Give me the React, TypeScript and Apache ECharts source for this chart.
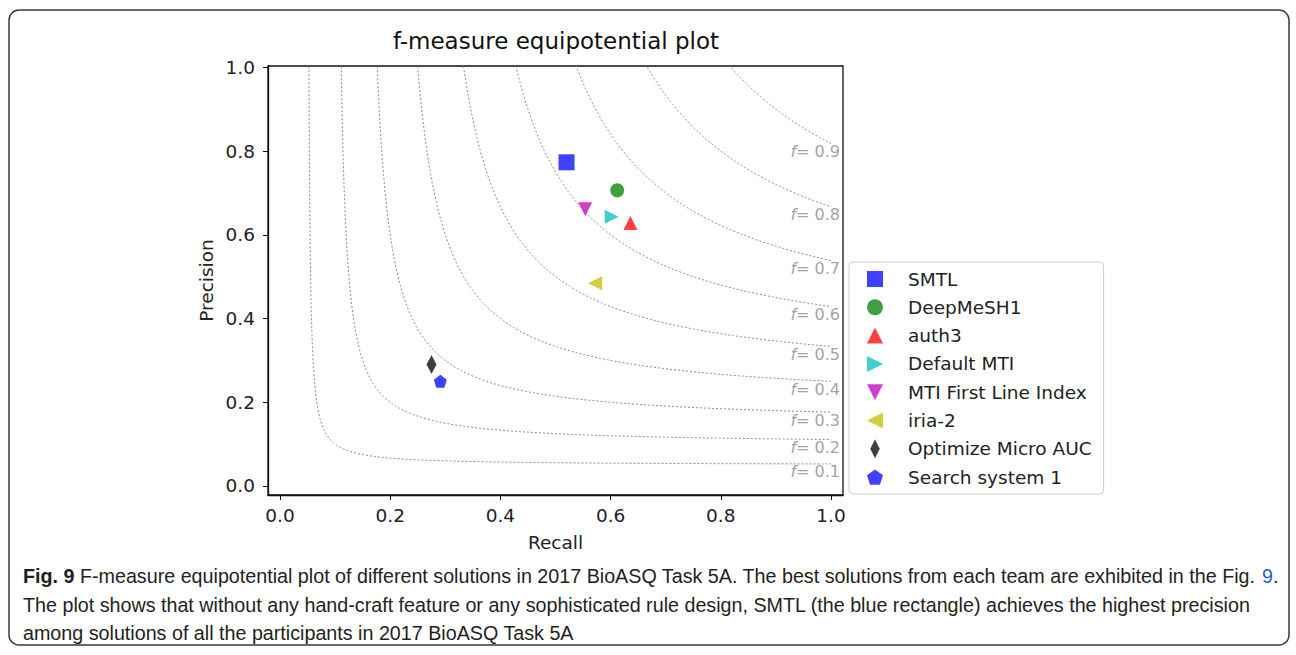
import React, { useEffect, useRef } from 'react';
import * as echarts from 'echarts';

// ---- data ----
const teams = ['SMTL', 'DeepMeSH1', 'auth3', 'Default MTI', 'MTI First Line Index', 'iria-2', 'Optimize Micro AUC', 'Search system 1'];
const recall = [0.52, 0.612, 0.636, 0.602, 0.554, 0.572, 0.275, 0.291];
const precision = [0.773, 0.706, 0.628, 0.643, 0.661, 0.484, 0.29, 0.25];
const teamColors = ['#0000ff', '#008000', '#ff0000', '#00bfbf', '#bf00bf', '#bfbf00', '#000000', '#0000ff'];
const fScores = [0.1, 0.2, 0.3, 0.4, 0.5, 0.6, 0.7, 0.8, 0.9];
const xTicks = [0, 0.2, 0.4, 0.6, 0.8, 1.0];
const yTicks = [0, 0.2, 0.4, 0.6, 0.8, 1.0];

const captionLines = [
  ['Fig. 9', ' F-measure equipotential plot of different solutions in 2017 BioASQ Task 5A. The best solutions from each team are exhibited in the Fig. ', '9', '.'],
  ['', 'The plot shows that without any hand-craft feature or any sophisticated rule design, SMTL (the blue rectangle) achieves the highest precision', '', ''],
  ['', 'among solutions of all the participants in 2017 BioASQ Task 5A', '', ''],
];

const SQUARE = 'path://M0,0 L1,0 L1,1 L0,1 Z';
const CIRCLE = 'circle';
const TRI_UP = 'path://M0.5,0 L1,1 L0,1 Z';
const TRI_RIGHT = 'path://M0,0 L1,0.5 L0,1 Z';
const TRI_DOWN = 'path://M0,0 L1,0 L0.5,1 Z';
const TRI_LEFT = 'path://M1,0 L0,0.5 L1,1 Z';
const PENTAGON = 'path://M0,-1 L0.951,-0.309 L0.588,0.809 L-0.588,0.809 L-0.951,-0.309 Z';
const THIN_DIAMOND = 'path://M0,-1 L0.5,0 L0,1 L-0.5,0 Z';

const symbols: any[] = [
  { symbol: 'rect', size: 16, rotate: 0, icon: SQUARE },
  { symbol: 'circle', size: 14, rotate: 0, icon: CIRCLE },
  { symbol: 'triangle', size: 14, rotate: 0, icon: TRI_UP },
  { symbol: 'triangle', size: 14, rotate: -90, icon: TRI_RIGHT },
  { symbol: 'triangle', size: 14, rotate: 180, icon: TRI_DOWN },
  { symbol: 'triangle', size: 14, rotate: 90, icon: TRI_LEFT },
  { symbol: THIN_DIAMOND, size: [10, 19], rotate: 0, icon: THIN_DIAMOND },
  { symbol: PENTAGON, size: 13, rotate: 0, icon: PENTAGON },
];

// iso-F curve: precision = f*R / (2R - f)
function isoCurve(f: number) {
  const pts: number[][] = [];
  const r0 = (1.05 * f) / (2.1 - f);
  const n = 240;
  for (let i = 0; i <= n; i++) {
    const t = i / n;
    const r = r0 + (1 - r0) * t * t;
    pts.push([r, (f * r) / (2 * r - f)]);
  }
  return pts;
}

const FONT = "'DejaVu Sans', sans-serif";
const CAP_FONT = "'Liberation Sans', Arial, sans-serif";

export default function App() {
  const ref = useRef<HTMLDivElement>(null);
  useEffect(() => {
    const chart = echarts.init(ref.current!, null, { renderer: 'svg' });

    // caption width fitting (condensed look)
    const canvas = document.createElement('canvas');
    const ctx = canvas.getContext('2d')!;
    const capSize = 19.5;
    ctx.font = `bold ${capSize}px ${CAP_FONT}`;
    const bw = ctx.measureText(captionLines[0][0]).width;
    ctx.font = `${capSize}px ${CAP_FONT}`;
    const nw = ctx.measureText(captionLines[0][1] + captionLines[0][2] + captionLines[0][3]).width;
    const capScale = (1279 - 23) / (bw + nw);

    const captionGraphics = captionLines.map((ln, i) => ({
      type: 'text',
      x: 23,
      y: [576, 605, 633][i],
      scaleX: capScale,
      style: {
        text: (ln[0] ? `{b|${ln[0]}}` : '') + ln[1] + (ln[2] ? `{l|${ln[2]}}` : '') + ln[3],
        font: `${capSize}px ${CAP_FONT}`,
        fill: '#231f20',
        verticalAlign: 'middle',
        rich: {
          b: { fontWeight: 'bold', fontSize: capSize, fontFamily: CAP_FONT, fill: '#231f20' },
          l: { fontSize: capSize, fontFamily: CAP_FONT, fill: '#1a5fd6' },
        },
      },
    }));

    const teamSeries = teams.map((t, i) => ({
      name: t,
      type: 'scatter',
      data: [[recall[i], precision[i]]],
      symbol: symbols[i].symbol,
      symbolSize: symbols[i].size,
      symbolRotate: symbols[i].rotate,
      itemStyle: { color: teamColors[i], opacity: 0.75 },
      z: 5,
    }));

    const curveSeries = fScores.map((f) => ({
      name: 'f' + f,
      type: 'line',
      data: isoCurve(f),
      showSymbol: false,
      symbol: 'none',
      clip: true,
      silent: true,
      lineStyle: { color: '#8a8a8a', width: 1, type: [2, 2] },
      z: 1,
    }));

    const labelSeries = {
      name: 'fLabels',
      type: 'scatter',
      silent: true,
      symbolSize: 1,
      itemStyle: { color: 'rgba(0,0,0,0)' },
      data: fScores.map((f) => [1, f / (2 - f), f]),
      label: {
        show: true,
        position: 'inside',
        align: 'right',
        verticalAlign: 'middle',
        offset: [9, 8],
        formatter: (p: any) => `{i|f}= ${p.value[2].toFixed(1)}`,
        color: '#8a8a8a',
        fontFamily: FONT,
        fontSize: 16,
        rich: {
          i: { fontStyle: 'italic', fontFamily: FONT, fontSize: 16, color: '#8a8a8a' },
        },
      },
      z: 2,
    };

    const option: any = {
      animation: false,
      backgroundColor: '#ffffff',
      title: {
        text: 'f-measure equipotential plot',
        left: 551,
        top: 24,
        textAlign: 'center',
        textStyle: { fontFamily: FONT, fontSize: 23, fontWeight: 'normal', color: '#111' },
      },
      grid: {
        left: 268,
        top: 66,
        width: 575,
        height: 429,
        show: true,
        borderColor: '#111',
        borderWidth: 1.3,
        backgroundColor: 'transparent',
        outerBoundsMode: 'none',
      },
      xAxis: {
        type: 'value',
        min: -0.0218,
        max: 1.0218,
        splitLine: { show: false },
        axisLine: { show: true, onZero: false, lineStyle: { color: '#111', width: 1.3 } },
        axisTick: { show: true, customValues: xTicks, length: 5, lineStyle: { color: '#111' } },
        axisLabel: {
          customValues: xTicks,
          formatter: (v: number) => v.toFixed(1),
          margin: 11,
          fontFamily: FONT,
          fontSize: 18.5,
          color: '#222',
        },
        name: 'Recall',
        nameLocation: 'middle',
        nameGap: 38,
        nameTextStyle: { fontFamily: FONT, fontSize: 18.5, color: '#222' },
      },
      yAxis: {
        type: 'value',
        min: -0.0215,
        max: 1.003,
        splitLine: { show: false },
        axisLine: { show: true, onZero: false, lineStyle: { color: '#111', width: 1.3 } },
        axisTick: { show: true, customValues: yTicks, length: 5, lineStyle: { color: '#111' } },
        axisLabel: {
          customValues: yTicks,
          formatter: (v: number) => v.toFixed(1),
          margin: 13,
          fontFamily: FONT,
          fontSize: 18.5,
          color: '#222',
        },
        name: 'Precision',
        nameLocation: 'middle',
        nameRotate: 90,
        nameGap: 52,
        nameTextStyle: { fontFamily: FONT, fontSize: 18.5, color: '#222' },
      },
      legend: {
        orient: 'vertical',
        left: 849,
        top: 262,
        padding: [7.5, 12, 7.5, 18],
        itemWidth: 16,
        itemHeight: 19,
        itemGap: 9.3,
        symbolKeepAspect: true,
        backgroundColor: '#ffffff',
        borderColor: '#cccccc',
        borderWidth: 1,
        borderRadius: 4,
        selectedMode: false,
        data: teams.map((t, i) => ({ name: t, icon: symbols[i].icon, symbolRotate: 0 })),
        textStyle: {
          fontFamily: FONT,
          fontSize: 18.5,
          color: '#222',
          padding: [0, 0, 0, 20],
        },
      },
      graphic: [
        {
          type: 'rect',
          shape: { x: 9, y: 10, width: 1280, height: 635, r: 10 },
          style: { fill: 'none', stroke: '#3a3a3a', lineWidth: 1.5 },
          silent: true,
        },
        ...captionGraphics,
      ],
      series: [...curveSeries, labelSeries, ...teamSeries],
    };

    chart.setOption(option);
    return () => chart.dispose();
  }, []);

  return (
    <div
      ref={ref}
      style={{ position: 'fixed', left: 0, top: 0, width: 1296, height: 655, background: '#fff' }}
    />
  );
}
